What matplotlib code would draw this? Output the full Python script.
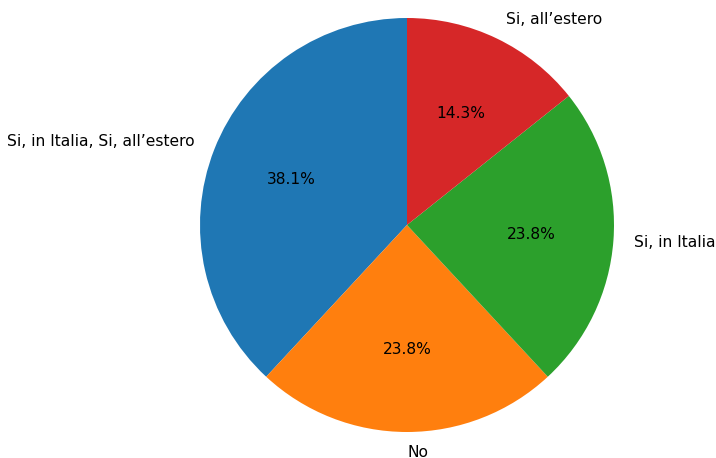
import matplotlib
matplotlib.use('Agg')
import matplotlib.pyplot as plt

labels = ['Si, in Italia, Si, all\u2019estero', 'No', 'Si, in Italia', 'Si, all\u2019estero']
counts = [8, 5, 5, 3]

W, H = 716, 458
cx, cy, r = 407, 225, 207

fig = plt.figure(figsize=(W / 100, H / 100), dpi=100)
ax = fig.add_axes([(cx - r) / W, (H - cy - r) / H, 2 * r / W, 2 * r / H])
ax.pie(counts, labels=labels, autopct='%1.1f%%', startangle=90,
       textprops={'fontsize': 11.2})
ax.set_xlim(-1, 1)
ax.set_ylim(-1, 1)
ax.set_aspect('equal')

fig.savefig('out.png', dpi=100)
